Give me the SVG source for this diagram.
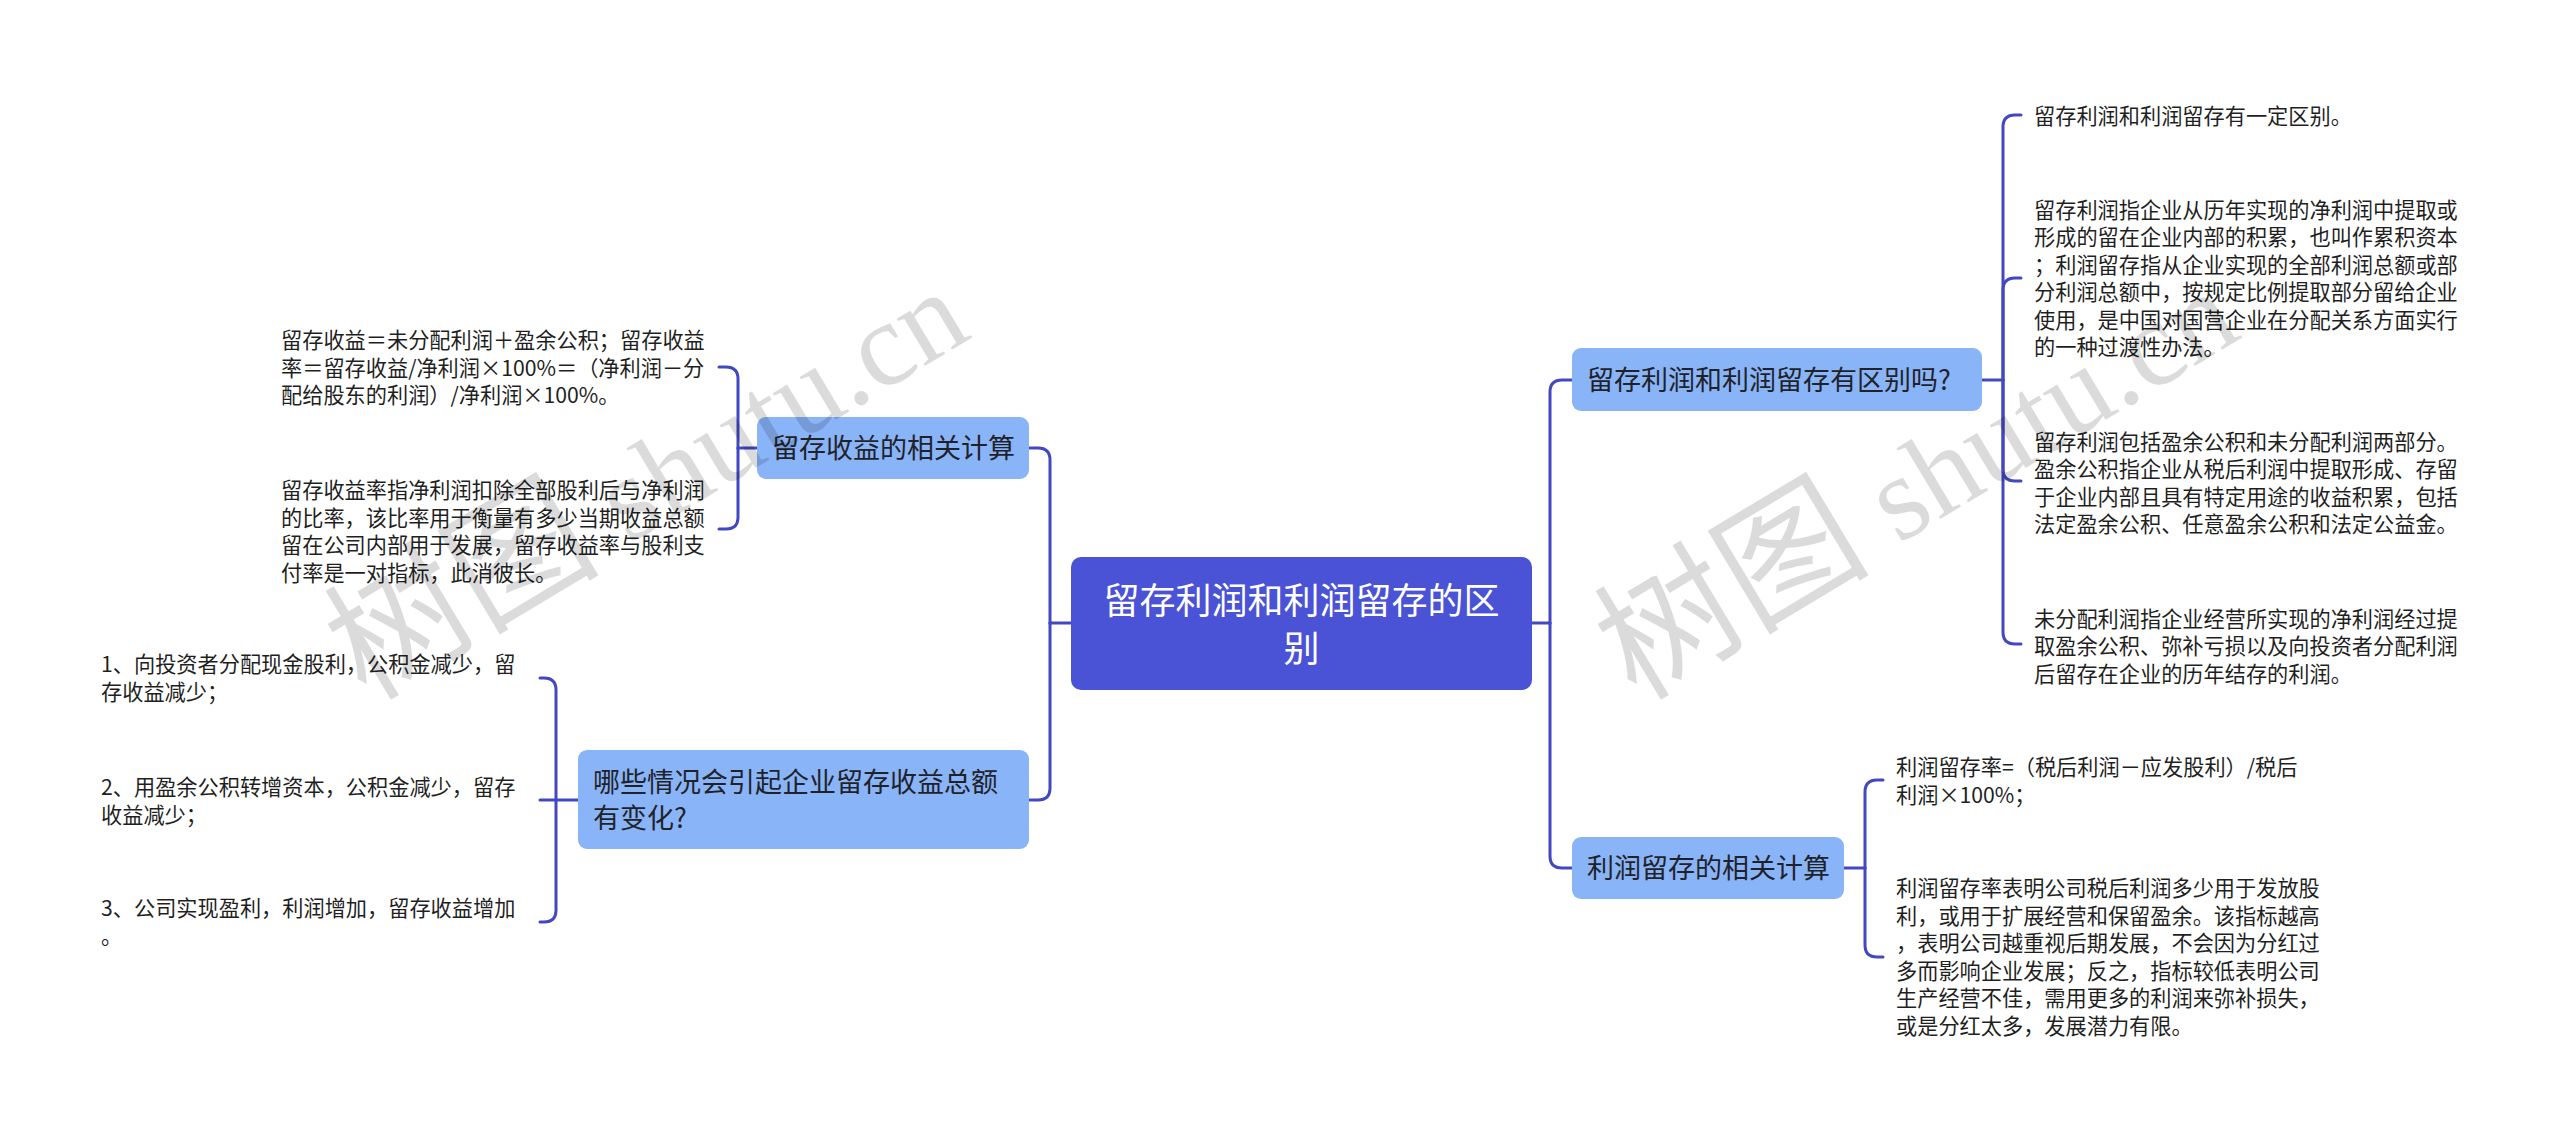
<svg xmlns="http://www.w3.org/2000/svg" width="2560" height="1140" viewBox="0 0 2560 1140">
<defs>
<style>
.bg{fill:#ffffff}
.conn{fill:none;stroke:#4249c0;stroke-width:3;stroke-linecap:round;stroke-linejoin:round}
.root rect{fill:#4a52d6}
.root text{fill:#ffffff;font-family:"Noto Sans CJK SC","Noto Sans",sans-serif;font-size:36px;text-anchor:middle}
.topic rect{fill:#8ab4f8}
.topic text{fill:#1f2329;font-family:"Noto Sans CJK SC","Noto Sans",sans-serif;font-size:27px}
.leaf text{fill:#1f1f1f;font-family:"Noto Sans CJK SC","Noto Sans",sans-serif;font-size:21.2px}
.wm{fill:#000000;fill-opacity:0.14;font-family:"Liberation Serif","Noto Sans CJK SC",serif;font-size:120px}
.wm .cjk{font-size:138px}
</style>
</defs>
<rect class="bg" x="0" y="0" width="2560" height="1140"/>

<g id="connectors">
<!-- root to left topics -->
<path class="conn" d="M1071,623 H1050"/>
<path class="conn" d="M1050,623 V460 Q1050,448 1038,448 H1029"/>
<path class="conn" d="M1050,623 V788 Q1050,800 1038,800 H1029"/>
<!-- root to right topics -->
<path class="conn" d="M1532,623 H1550"/>
<path class="conn" d="M1550,623 V392 Q1550,380 1562,380 H1573"/>
<path class="conn" d="M1550,623 V856 Q1550,868 1562,868 H1573"/>
<!-- left topic 1 leaves -->
<path class="conn" d="M757,448 H738"/>
<path class="conn" d="M738,448 V379 Q738,367 726,367 H719"/>
<path class="conn" d="M738,448 V517 Q738,529 726,529 H719"/>
<!-- left topic 2 leaves -->
<path class="conn" d="M578,800 H556"/>
<path class="conn" d="M556,800 V690 Q556,678 544,678 H540"/>
<path class="conn" d="M556,800 H540"/>
<path class="conn" d="M556,800 V910 Q556,922 544,922 H540"/>
<!-- right topic 1 leaves -->
<path class="conn" d="M1982,380 H2003"/>
<path class="conn" d="M2003,380 V127 Q2003,115 2015,115 H2021"/>
<path class="conn" d="M2003,380 V290 Q2003,278 2015,278 H2021"/>
<path class="conn" d="M2003,380 V469 Q2003,481 2015,481 H2021"/>
<path class="conn" d="M2003,380 V632 Q2003,644 2015,644 H2021"/>
<!-- right topic 2 leaves -->
<path class="conn" d="M1844,868 H1865"/>
<path class="conn" d="M1865,868 V792 Q1865,780 1877,780 H1883"/>
<path class="conn" d="M1865,868 V945 Q1865,957 1877,957 H1883"/>
</g>

<g id="root" class="root">
<rect x="1071" y="557" width="461" height="133" rx="10"/>
<text x="1301.5" y="613.5">留存利润和利润留存的区</text>
<text x="1301.5" y="661.5">别</text>
</g>

<g id="topic-left-1" class="topic">
<rect x="757" y="417" width="272" height="62" rx="9"/>
<text x="772" y="458">留存收益的相关计算</text>
</g>

<g id="topic-left-2" class="topic">
<rect x="578" y="750" width="451" height="99" rx="9"/>
<text x="593" y="792">哪些情况会引起企业留存收益总额</text>
<text x="593" y="828">有变化?</text>
</g>

<g id="topic-right-1" class="topic">
<rect x="1572" y="348" width="410" height="63" rx="9"/>
<text x="1587" y="390">留存利润和利润留存有区别吗?</text>
</g>

<g id="topic-right-2" class="topic">
<rect x="1572" y="837" width="272" height="62" rx="9"/>
<text x="1587" y="878">利润留存的相关计算</text>
</g>

<g id="leaf-l1-1" class="leaf">
<text x="281" y="348">留存收益＝未分配利润＋盈余公积；留存收益</text>
<text x="281" y="375.5">率＝留存收益/净利润×100%＝（净利润－分</text>
<text x="281" y="403">配给股东的利润）/净利润×100%。</text>
</g>

<g id="leaf-l1-2" class="leaf">
<text x="281" y="498">留存收益率指净利润扣除全部股利后与净利润</text>
<text x="281" y="525.5">的比率，该比率用于衡量有多少当期收益总额</text>
<text x="281" y="553">留在公司内部用于发展，留存收益率与股利支</text>
<text x="281" y="580.5">付率是一对指标，此消彼长。</text>
</g>

<g id="leaf-l2-1" class="leaf">
<text x="101" y="672">1、向投资者分配现金股利，公积金减少，留</text>
<text x="101" y="699.5">存收益减少；</text>
</g>

<g id="leaf-l2-2" class="leaf">
<text x="101" y="795">2、用盈余公积转增资本，公积金减少，留存</text>
<text x="101" y="822.5">收益减少；</text>
</g>

<g id="leaf-l2-3" class="leaf">
<text x="101" y="916">3、公司实现盈利，利润增加，留存收益增加</text>
<text x="101" y="943.5">。</text>
</g>

<g id="leaf-r1-1" class="leaf">
<text x="2034" y="123.5">留存利润和利润留存有一定区别。</text>
</g>

<g id="leaf-r1-2" class="leaf">
<text x="2034" y="217.5">留存利润指企业从历年实现的净利润中提取或</text>
<text x="2034" y="245">形成的留在企业内部的积累，也叫作累积资本</text>
<text x="2034" y="272.5">；利润留存指从企业实现的全部利润总额或部</text>
<text x="2034" y="300">分利润总额中，按规定比例提取部分留给企业</text>
<text x="2034" y="327.5">使用，是中国对国营企业在分配关系方面实行</text>
<text x="2034" y="355">的一种过渡性办法。</text>
</g>

<g id="leaf-r1-3" class="leaf">
<text x="2034" y="449.5">留存利润包括盈余公积和未分配利润两部分。</text>
<text x="2034" y="477">盈余公积指企业从税后利润中提取形成、存留</text>
<text x="2034" y="504.5">于企业内部且具有特定用途的收益积累，包括</text>
<text x="2034" y="532">法定盈余公积、任意盈余公积和法定公益金。</text>
</g>

<g id="leaf-r1-4" class="leaf">
<text x="2034" y="626.5">未分配利润指企业经营所实现的净利润经过提</text>
<text x="2034" y="654">取盈余公积、弥补亏损以及向投资者分配利润</text>
<text x="2034" y="681.5">后留存在企业的历年结存的利润。</text>
</g>

<g id="leaf-r2-1" class="leaf">
<text x="1896" y="775">利润留存率=（税后利润－应发股利）/税后</text>
<text x="1896" y="802.5">利润×100%；</text>
</g>

<g id="leaf-r2-2" class="leaf">
<text x="1896" y="896">利润留存率表明公司税后利润多少用于发放股</text>
<text x="1896" y="923.5">利，或用于扩展经营和保留盈余。该指标越高</text>
<text x="1896" y="951">，表明公司越重视后期发展，不会因为分红过</text>
<text x="1896" y="978.5">多而影响企业发展；反之，指标较低表明公司</text>
<text x="1896" y="1006">生产经营不佳，需用更多的利润来弥补损失，</text>
<text x="1896" y="1033.5">或是分红太多，发展潜力有限。</text>
</g>

<g id="watermarks">
<text class="wm" x="366" y="702" transform="rotate(-31 366 702)"><tspan class="cjk">树图</tspan> shutu.cn</text>
<text class="wm" x="1636" y="702" transform="rotate(-31 1636 702)"><tspan class="cjk">树图</tspan> shutu.cn</text>
</g>
</svg>
